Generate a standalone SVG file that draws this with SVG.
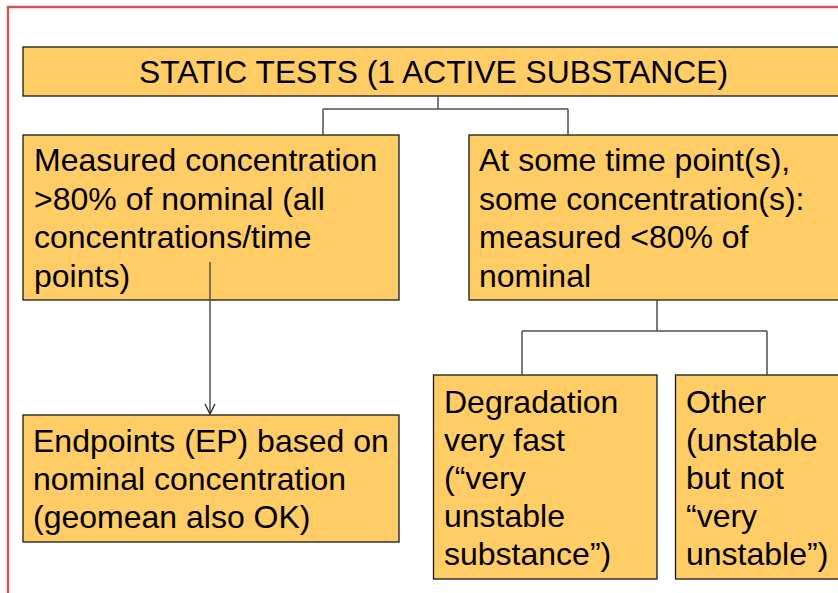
<svg xmlns="http://www.w3.org/2000/svg" width="838" height="593" viewBox="0 0 838 593">
<defs>
<style>
.box{fill:#FFCC66;stroke:#1a1a1a;stroke-width:1.3}
.t{font-family:"Liberation Sans",Arial,sans-serif;font-size:32px;fill:#000}
.title{font-family:"Liberation Sans",Arial,sans-serif;font-size:32px;fill:#000}
.c{fill:none;stroke:#505050;stroke-width:1.5}
</style>
<marker id="arr" viewBox="0 0 12 12" refX="11" refY="6" markerWidth="12" markerHeight="12" markerUnits="userSpaceOnUse" orient="auto">
<path d="M1,1 L11,6 L1,11" fill="none" stroke="#303030" stroke-width="1.4"/>
</marker>
</defs>
<rect width="838" height="593" fill="#fff"/>
<rect x="8" y="7" width="845" height="600" fill="none" stroke="#C85A5A" stroke-width="2.5"/>
<g id="title">
<rect class="box" x="23" y="47" width="830" height="49"/>
<text class="title" x="139" y="83" textLength="589" lengthAdjust="spacingAndGlyphs">STATIC TESTS (1 ACTIVE SUBSTANCE)</text>
</g>
<g id="measured">
<rect class="box" x="23" y="135" width="376" height="165"/>
<text class="t"><tspan x="34" y="171">Measured concentration</tspan><tspan x="34" y="210">&gt;80% of nominal (all</tspan><tspan x="34" y="248">concentrations/time</tspan><tspan x="34" y="287">points)</tspan></text>
</g>
<g id="sometime">
<rect class="box" x="469" y="135" width="384" height="165"/>
<text class="t"><tspan x="479" y="171">At some time point(s),</tspan><tspan x="479" y="210">some concentration(s):</tspan><tspan x="479" y="248">measured &lt;80% of</tspan><tspan x="479" y="287">nominal</tspan></text>
</g>
<g id="endpoints">
<rect class="box" x="23" y="415" width="376" height="127"/>
<text class="t"><tspan x="33" y="452">Endpoints (EP) based on</tspan><tspan x="33" y="490">nominal concentration</tspan><tspan x="33" y="528">(geomean also OK)</tspan></text>
</g>
<g id="degradation">
<rect class="box" x="433.5" y="375" width="223.5" height="204"/>
<text class="t"><tspan x="444" y="413">Degradation</tspan><tspan x="444" y="451">very fast</tspan><tspan x="444" y="489">(“very</tspan><tspan x="444" y="527">unstable</tspan><tspan x="444" y="565">substance”)</tspan></text>
</g>
<g id="other">
<rect class="box" x="675.5" y="375" width="180" height="204"/>
<text class="t"><tspan x="686" y="413">Other</tspan><tspan x="686" y="451">(unstable</tspan><tspan x="686" y="489">but not</tspan><tspan x="686" y="527">“very</tspan><tspan x="686" y="565">unstable”)</tspan></text>
</g>
<g id="connectors">
<path class="c" d="M438,96 V109 M323,109 H568 M323,109 V135 M568,109 V135"/>
<path class="c" d="M657,300 V331 M522,331 H767 M522,331 V375 M767,331 V375"/>
<path class="c" d="M210,262 V414" marker-end="url(#arr)"/>
</g>
</svg>
